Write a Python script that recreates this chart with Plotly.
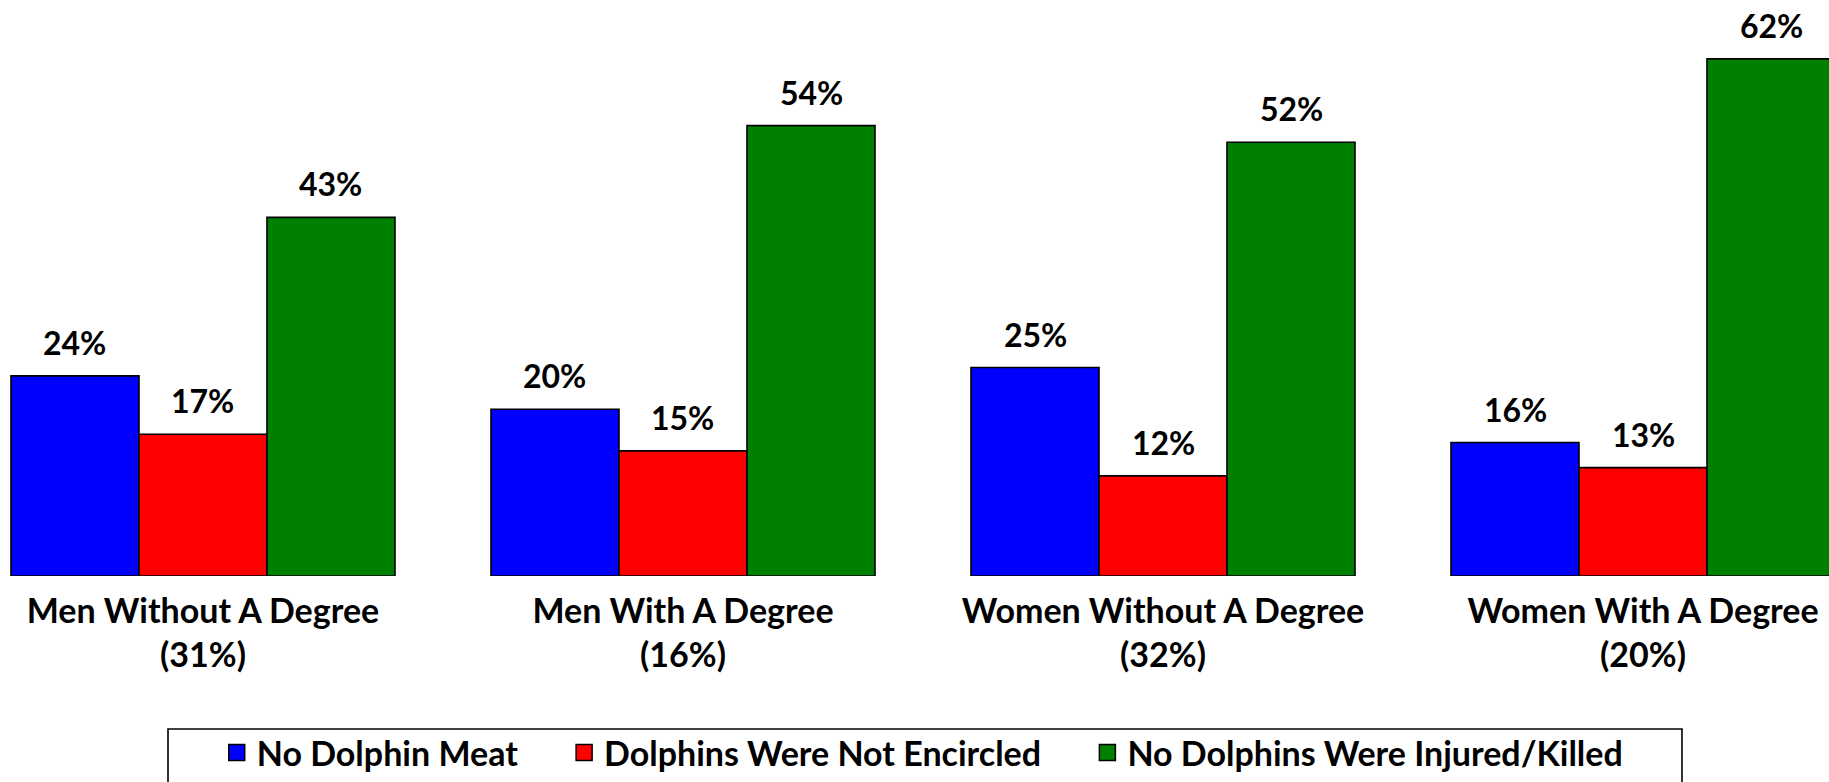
import plotly.graph_objects as go

categories = ["Men Without A Degree", "Men With A Degree", "Women Without A Degree", "Women With A Degree"]
group_shares = ["(31%)", "(16%)", "(32%)", "(20%)"]
series_names = ["No Dolphin Meat", "Dolphins Were Not Encircled", "No Dolphins Were Injured/Killed"]
no_dolphin_meat = [24, 20, 25, 16]
not_encircled = [17, 15, 12, 13]
not_injured = [43, 54, 52, 62]
colors = ["#0000FF", "#FF0000", "#008000"]

series_values = [no_dolphin_meat, not_encircled, not_injured]
FONT = "Lato"
NB = "\u00a0"
legend_pad = [NB * 5, NB * 5, ""]

W, H = 1829, 782
PLOT_BOTTOM = 576  # px from top where bars start

fig = go.Figure()
for name, vals, col in zip(series_names, series_values, colors):
    fig.add_trace(go.Bar(
        x=categories, y=vals, name=name, showlegend=False,
        marker=dict(color=col, line=dict(color="black", width=1.6)),
        hoverinfo="skip",
    ))
# legend entries (square swatches)
for name, col, pad in zip(series_names, colors, legend_pad):
    fig.add_trace(go.Scatter(
        x=[None], y=[None], mode="markers", name=name + pad,
        marker=dict(symbol="square", size=20, color=col, line=dict(color="black", width=1.5)),
        hoverinfo="skip",
    ))

bargap = 0.2
bw = (1 - bargap) / 3
annotations = []
for i, vals in enumerate(series_values):
    for j, v in enumerate(vals):
        annotations.append(dict(
            x=j + (i - 1) * bw, y=v, xref="x", yref="y",
            text=f"{v}%", showarrow=False, yanchor="bottom",
            yshift=12,
            font=dict(family=FONT, size=32, color="black", weight="bold"),
        ))

fig.update_layout(
    width=W, height=H,
    margin=dict(l=0, r=0, t=0, b=0),
    paper_bgcolor="white", plot_bgcolor="white",
    barmode="group", bargap=bargap, bargroupgap=0,
    showlegend=True,
    legend=dict(
        orientation="h", x=0.5045, xanchor="center", y=0.0, yanchor="bottom",
        font=dict(family=FONT, size=34, color="black", weight="bold"),
        borderwidth=0, bgcolor="rgba(0,0,0,0)",
    ),
    xaxis=dict(
        type="category",
        range=[-0.4229, 3.3875],
        tickvals=categories,
        ticktext=[f"{c}<br>{s}" for c, s in zip(categories, group_shares)],
        tickfont=dict(family=FONT, size=34, color="black", weight="bold"),
        showline=False, showgrid=False, zeroline=False, ticks="",
        ticklabelstandoff=12, automargin=False,
    ),
    yaxis=dict(range=[0, PLOT_BOTTOM / 8.34], domain=[(H - PLOT_BOTTOM) / H, 1],
               visible=False, showgrid=False, zeroline=False),
    annotations=annotations,
    shapes=[dict(
        type="rect", xref="paper", yref="paper",
        x0=168 / W, x1=1682 / W, y0=-0.05, y1=(H - 729) / H,
        line=dict(color="black", width=1.6), fillcolor="rgba(0,0,0,0)",
    )],
    hovermode=False,
)

fig.write_html(
    "out.html",
    config={"displayModeBar": False},
    post_script="document.body.style.margin='0';document.body.style.overflow='hidden';",
)
